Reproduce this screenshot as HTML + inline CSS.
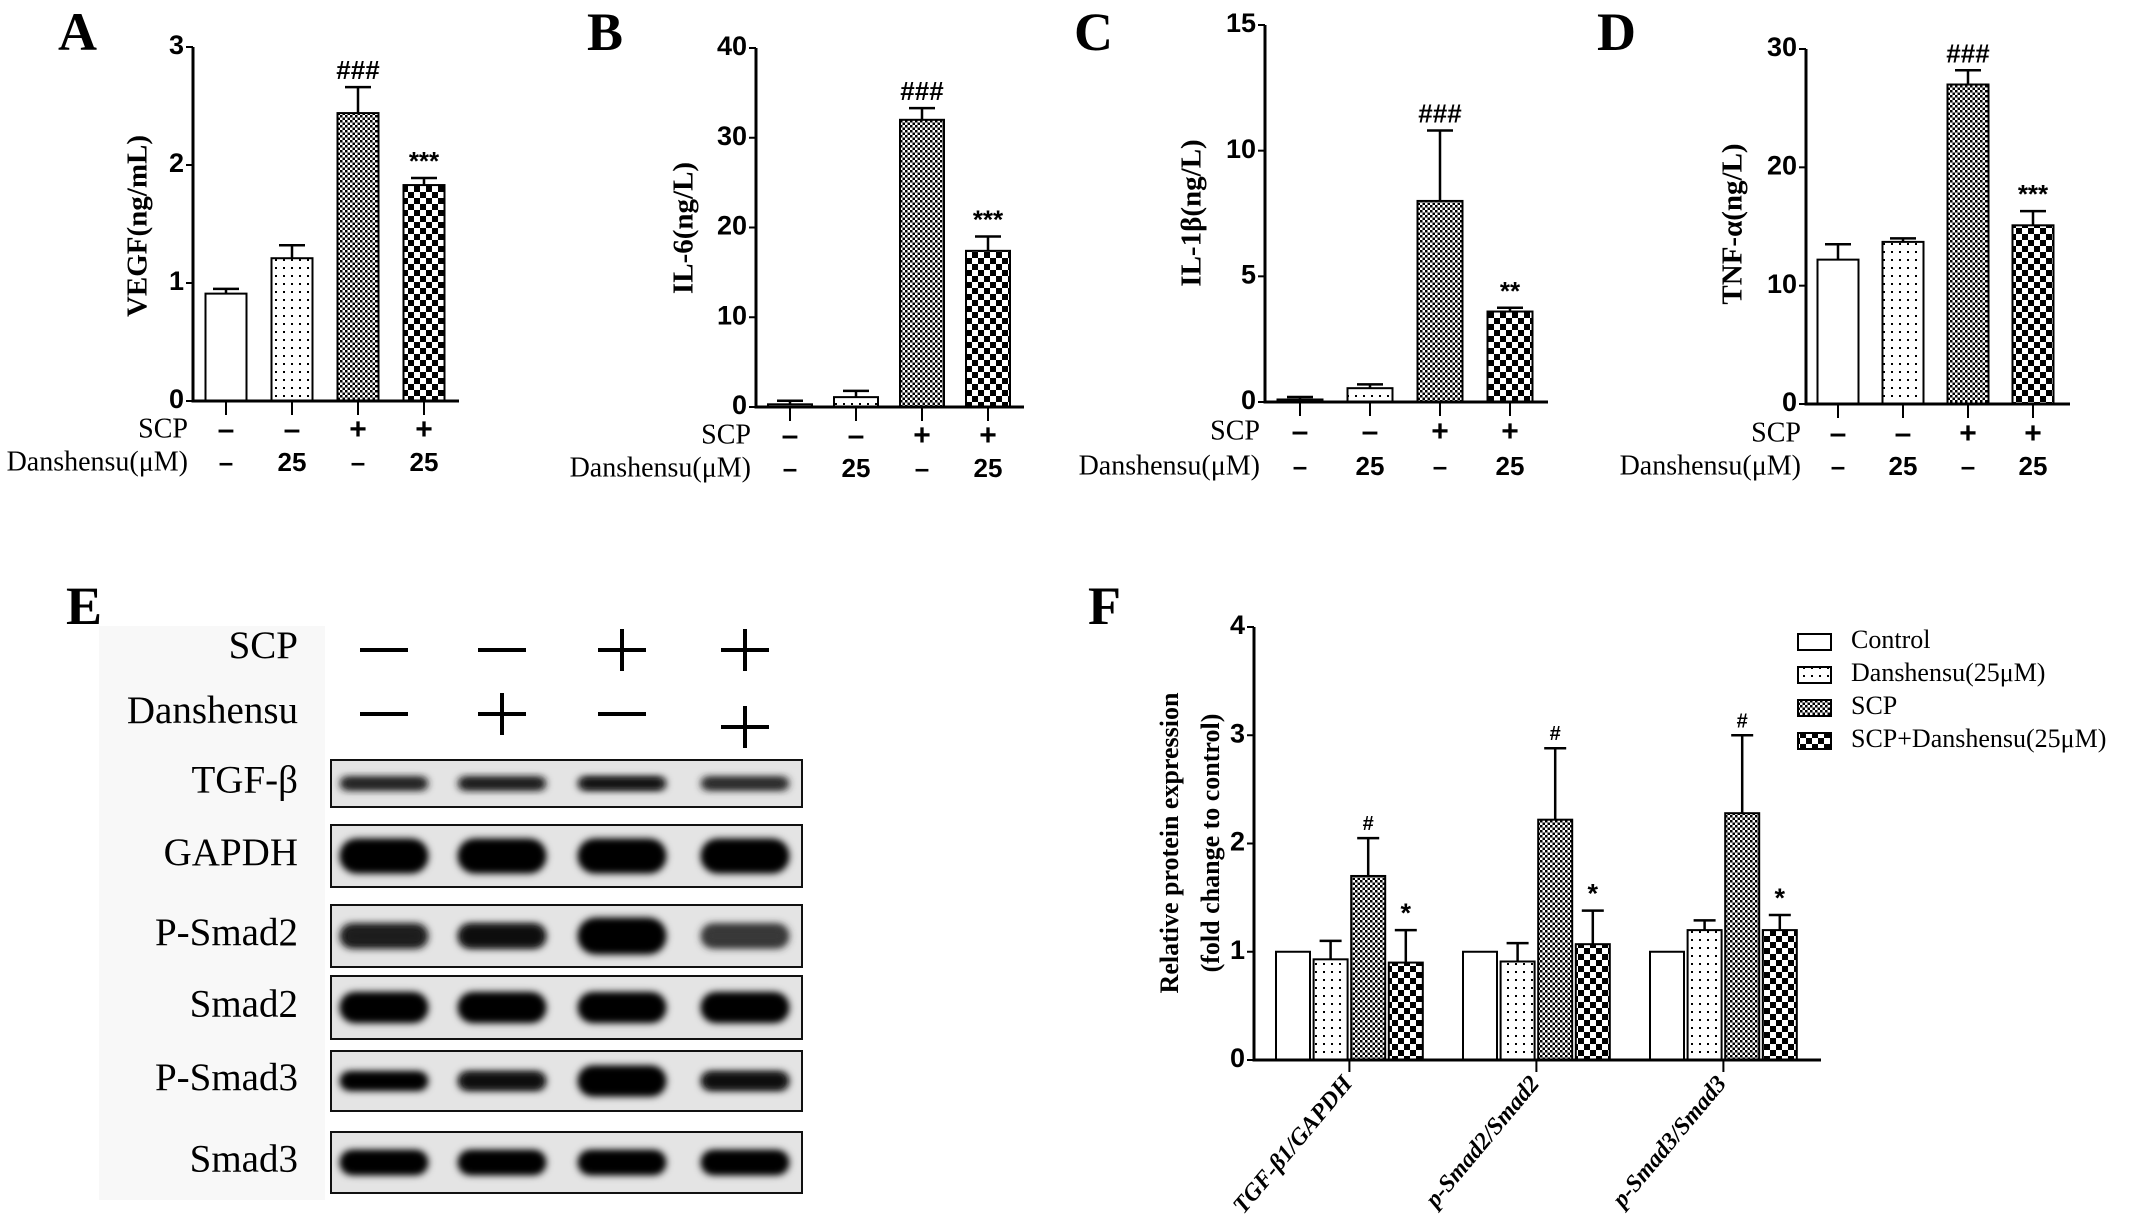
<!DOCTYPE html>
<html><head><meta charset="utf-8"><style>
body{margin:0;background:#fff}
svg{display:block}
.serif{font-family:"Liberation Serif",serif}
.sans{font-family:"Liberation Sans Narrow","Liberation Sans",sans-serif;font-weight:bold}
</style></head><body>
<svg id="fig" width="2140" height="1226" viewBox="0 0 2140 1226" xmlns="http://www.w3.org/2000/svg">
<defs>
<pattern id="p-dots" width="8" height="8" patternUnits="userSpaceOnUse"><rect width="8" height="8" fill="#fff"/><rect x="3" y="3" width="2" height="2" fill="#000"/></pattern>
<pattern id="p-fine" width="5" height="5" patternUnits="userSpaceOnUse"><rect width="5" height="5" fill="#fff"/><rect width="2.5" height="2.5" fill="#000"/><rect x="2.5" y="2.5" width="2.5" height="2.5" fill="#000"/></pattern>
<pattern id="p-check" width="12" height="12" patternUnits="userSpaceOnUse"><rect width="12" height="12" fill="#fff"/><rect width="6" height="6" fill="#000"/><rect x="6" y="6" width="6" height="6" fill="#000"/></pattern>
<filter id="blur" x="-30%" y="-80%" width="160%" height="260%"><feGaussianBlur stdDeviation="4"/></filter>
</defs>
<g id="root"></g>
</svg>
<script>
// Panel A: VEGF
const groups = ["Control", "Danshensu", "SCP", "SCP+Danshensu"];
const scpSigns = ["–", "–", "+", "+"];
const danSigns = ["–", "25", "–", "25"];
const vegfValues = [0.91, 1.21, 2.44, 1.83];
const vegfErrors = [0.04, 0.11, 0.22, 0.06];
const vegfTicks = [0, 1, 2, 3];
const vegfMarks = ["", "", "###", "***"];
// Panel B: IL-6
const il6Values = [0.3, 1.1, 32.0, 17.4];
const il6Errors = [0.4, 0.7, 1.3, 1.6];
const il6Ticks = [0, 10, 20, 30, 40];
const il6Marks = ["", "", "###", "***"];
// Panel C: IL-1β
const il1bValues = [0.1, 0.55, 8.0, 3.6];
const il1bErrors = [0.1, 0.15, 2.8, 0.15];
const il1bTicks = [0, 5, 10, 15];
const il1bMarks = ["", "", "###", "**"];
// Panel D: TNF-α
const tnfValues = [12.2, 13.7, 27.0, 15.1];
const tnfErrors = [1.3, 0.3, 1.2, 1.2];
const tnfTicks = [0, 10, 20, 30];
const tnfMarks = ["", "", "###", "***"];
// Panel F
const fCategories = ["TGF-β1/GAPDH", "p-Smad2/Smad2", "p-Smad3/Smad3"];
const fControl = [1.0, 1.0, 1.0];
const fDanshensu = [0.93, 0.91, 1.2];
const fSCP = [1.7, 2.22, 2.28];
const fSCPDan = [0.9, 1.07, 1.2];
const fErrControl = [0, 0, 0];
const fErrDanshensu = [0.17, 0.17, 0.09];
const fErrSCP = [0.35, 0.66, 0.72];
const fErrSCPDan = [0.3, 0.31, 0.14];
const fMarksSCP = ["#", "#", "#"];
const fMarksSCPDan = ["*", "*", "*"];
const fTicks = [0, 1, 2, 3, 4];
const legendLabels = ["Control", "Danshensu(25μM)", "SCP", "SCP+Danshensu(25μM)"];

const NS = "http://www.w3.org/2000/svg";
const root = document.getElementById("root");
const fills = ["#fff", "url(#p-dots)", "url(#p-fine)", "url(#p-check)"];
function mk(tag, attrs, parent, text) {
  const e = document.createElementNS(NS, tag);
  for (const k in attrs) e.setAttribute(k, attrs[k]);
  if (text !== undefined) e.textContent = text;
  (parent || root).appendChild(e);
  return e;
}

function barPanel(cfg) {
  const g = mk("g", {});
  
  
  const max = cfg.ticks[cfg.ticks.length - 1];
  const y = v => cfg.y0 - (v / max) * (cfg.y0 - cfg.yTop);
  const x = i => cfg.ax + cfg.off + i * cfg.pitch;
  const pl = mk("text", {x: cfg.lx, y: 50, "font-size": 54, "font-weight": "bold", class: "serif"}, g, cfg.letter);
  
  
  const yt = mk("text", {transform: `translate(${cfg.tx},${cfg.ty}) rotate(-90)`, "text-anchor": "middle", "dominant-baseline": "middle", "font-size": 29, "font-weight": "bold", class: "serif"}, g, cfg.title);
  
  
  cfg.values.forEach((v, i) => {
    const r = mk("rect", {x: x(i) - cfg.bw / 2, y: y(v), width: cfg.bw, height: cfg.y0 - y(v), fill: fills[i], stroke: "#000", "stroke-width": 2}, g);
    
    
    const top = y(v + cfg.errors[i]);
    const eb = mk("path", {d: `M${x(i)},${y(v)}V${top}M${x(i) - 13},${top}H${x(i) + 13}`, stroke: "#000", "stroke-width": 2.5, fill: "none"}, g);
    
    
    if (cfg.marks[i]) {
      const m = mk("text", {x: x(i), y: top - 8, "text-anchor": "middle", "font-size": 26, class: "sans"}, g, cfg.marks[i]);
      
      
    }
    mk("line", {x1: x(i), x2: x(i), y1: cfg.y0, y2: cfg.y0 + 14, stroke: "#000", "stroke-width": 2}, g);
    const s = mk("text", {x: x(i), y: cfg.r1, "text-anchor": "middle", "dominant-baseline": "middle", "font-size": 30, class: "sans"}, g, scpSigns[i]);
    
    
    const d = mk("text", {x: x(i), y: cfg.r2, "text-anchor": "middle", "dominant-baseline": "middle", "font-size": 26, class: "sans"}, g, danSigns[i]);
    
    
  });
  const ax = mk("path", {d: `M${cfg.ax},${cfg.yTop}V${cfg.y0}H${cfg.xEnd}`, stroke: "#000", "stroke-width": 3, fill: "none"}, g);
  
  
  cfg.ticks.forEach(t => {
    mk("line", {x1: cfg.ax - 7, x2: cfg.ax, y1: y(t), y2: y(t), stroke: "#000", "stroke-width": 2}, g);
    const tl = mk("text", {x: cfg.ax - 9, y: y(t), "text-anchor": "end", "dominant-baseline": "middle", "font-size": 27, class: "sans"}, g, t);
    
    
  });
  const l1 = mk("text", {x: cfg.ax - 5, y: cfg.r1, "text-anchor": "end", "dominant-baseline": "middle", "font-size": 28, class: "serif"}, g, "SCP");
  
  
  const l2 = mk("text", {x: cfg.ax - 5, y: cfg.r2, "text-anchor": "end", "dominant-baseline": "middle", "font-size": 28, class: "serif"}, g, "Danshensu(μM)");
  
  
}

barPanel({name: "panel-a-vegf", letter: "A", lx: 58, title: "VEGF(ng/mL)", tx: 140, ty: 226, values: vegfValues, errors: vegfErrors, ticks: vegfTicks, marks: vegfMarks, ax: 193, yTop: 47, y0: 401, xEnd: 459, off: 33, pitch: 66, bw: 41, r1: 431, r2: 464});
barPanel({name: "panel-b-il6", letter: "B", lx: 587, title: "IL-6(ng/L)", tx: 686, ty: 228, values: il6Values, errors: il6Errors, ticks: il6Ticks, marks: il6Marks, ax: 756, yTop: 48, y0: 407, xEnd: 1024, off: 34, pitch: 66, bw: 44, r1: 437, r2: 470});
barPanel({name: "panel-c-il1b", letter: "C", lx: 1074, title: "IL-1β(ng/L)", tx: 1194, ty: 213, values: il1bValues, errors: il1bErrors, ticks: il1bTicks, marks: il1bMarks, ax: 1265, yTop: 25, y0: 402, xEnd: 1548, off: 35, pitch: 70, bw: 45, r1: 433, r2: 468});
barPanel({name: "panel-d-tnf", letter: "D", lx: 1597, title: "TNF-α(ng/L)", tx: 1735, ty: 224, values: tnfValues, errors: tnfErrors, ticks: tnfTicks, marks: tnfMarks, ax: 1806, yTop: 49, y0: 404, xEnd: 2070, off: 32, pitch: 65, bw: 41, r1: 435, r2: 468});

// Panel E: western blot
(function () {
  const g = mk("g", {});
  
  
  const el = mk("text", {x: 66, y: 624, "font-size": 54, "font-weight": "bold", class: "serif"}, g, "E");
  
  
  mk("rect", {x: 99, y: 626, width: 226, height: 574, fill: "#f8f8f8"}, g);
  const lanes = [384, 502, 622, 745];
  const scp = [0, 0, 1, 1], dan = [0, 1, 0, 1];
  const sign = (cx, cy, plus) => {
    mk("line", {x1: cx - 24, x2: cx + 24, y1: cy, y2: cy, stroke: "#000", "stroke-width": 4}, g);
    if (plus) mk("line", {x1: cx, x2: cx, y1: cy - 21, y2: cy + 21, stroke: "#000", "stroke-width": 4}, g);
  };
  lanes.forEach((x, i) => { sign(x, 650, scp[i]); sign(x, i === 3 ? 727 : 714, dan[i]); });
  const tl = (t, y) => { const e = mk("text", {x: 298, y: y, "text-anchor": "end", "dominant-baseline": "middle", "font-size": 39, class: "serif"}, g, t);   };
  tl("SCP", 649); tl("Danshensu", 714);
  const rows = [
    {n: "TGF-β", y: 760, h: 47, bh: 12, k: [0.75, 0.8, 0.9, 0.7]},
    {n: "GAPDH", y: 825, h: 62, bh: 34, k: [1, 1, 1, 1]},
    {n: "P-Smad2", y: 905, h: 62, bh: 24, k: [0.8, 0.9, 1, 0.6]},
    {n: "Smad2", y: 976, h: 63, bh: 30, k: [1, 1, 1, 1]},
    {n: "P-Smad3", y: 1051, h: 60, bh: 18, k: [1, 0.95, 1, 0.95]},
    {n: "Smad3", y: 1132, h: 61, bh: 24, k: [1, 1, 1, 1]}
  ];
  rows.forEach(r => {
    const bg = mk("g", {});
    g.appendChild(bg);
    
    
    mk("rect", {x: 331, y: r.y, width: 471, height: r.h, fill: "#e4e4e4", stroke: "#111", "stroke-width": 2}, bg);
    r.k.forEach((k, i) => {
      const v = Math.round(255 * (1 - k) * 0.55);
      const bh = (r.n === "P-Smad2" && i === 2) || (r.n === "P-Smad3" && i === 2) ? r.bh + 12 : r.bh;
      mk("rect", {x: lanes[i] - 44, y: r.y + r.h / 2 - bh / 2, width: 88, height: bh, rx: bh / 2, fill: `rgb(${v},${v},${v})`, filter: "url(#blur)"}, bg);
      mk("rect", {x: lanes[i] - 40, y: r.y + r.h / 2 - bh / 2.6, width: 80, height: bh / 1.3, rx: bh / 3, fill: `rgb(${v},${v},${v})`, filter: "url(#blur)"}, bg);
    });
    tl(r.n, r.y + r.h / 2);
  });
})();

// Panel F
(function () {
  const g = mk("g", {});
  
  
  const ax = 1254, yTop = 627, y0 = 1060, xEnd = 1821;
  const max = fTicks[fTicks.length - 1];
  const y = v => y0 - v / max * (y0 - yTop);
  const series = [fControl, fDanshensu, fSCP, fSCPDan];
  const errs = [fErrControl, fErrDanshensu, fErrSCP, fErrSCPDan];
  const bw = 34, gapIn = 37.6, pitch = 187, first = 1293;
  const fl = mk("text", {x: 1088, y: 624, "font-size": 54, "font-weight": "bold", class: "serif"}, g, "F");
  
  
  fCategories.forEach((c, ci) => {
    series.forEach((s, si) => {
      const cx = first + ci * pitch + si * gapIn;
      const r = mk("rect", {x: cx - bw / 2, y: y(s[ci]), width: bw, height: y0 - y(s[ci]), fill: fills[si], stroke: "#000", "stroke-width": 2}, g);
      
      
      if (errs[si][ci] > 0) {
        const t = y(s[ci] + errs[si][ci]);
        const eb = mk("path", {d: `M${cx},${y(s[ci])}V${t}M${cx - 11},${t}H${cx + 11}`, stroke: "#000", "stroke-width": 2.5, fill: "none"}, g);
        
        
        const mark = si === 2 ? fMarksSCP[ci] : si === 3 ? fMarksSCPDan[ci] : "";
        if (mark) {
          const m = mk("text", {x: cx, y: t - 8, "text-anchor": "middle", "font-size": si === 2 ? 20 : 27, class: "sans"}, g, mark);
          
          
        }
      }
    });
    const tx = first + ci * pitch + 1.5 * gapIn;
    mk("line", {x1: tx, x2: tx, y1: y0, y2: y0 + 12, stroke: "#000", "stroke-width": 2}, g);
    const lab = mk("text", {transform: `translate(${tx + 4},${y0 + 24}) rotate(-50)`, "text-anchor": "end", "font-size": 24, "font-weight": "bold", "font-style": "italic", class: "serif"}, g, c);
    
    
  });
  const axp = mk("path", {d: `M${ax},${yTop}V${y0}H${xEnd}`, stroke: "#000", "stroke-width": 3, fill: "none"}, g);
  
  
  fTicks.forEach(t => {
    mk("line", {x1: ax - 7, x2: ax, y1: y(t), y2: y(t), stroke: "#000", "stroke-width": 2}, g);
    const tl = mk("text", {x: ax - 9, y: y(t), "text-anchor": "end", "dominant-baseline": "middle", "font-size": 27, class: "sans"}, g, t);
    
    
  });
  const t1 = mk("text", {transform: "translate(1172,843) rotate(-90)", "text-anchor": "middle", "dominant-baseline": "middle", "font-size": 26, "font-weight": "bold", class: "serif"}, g, "Relative protein expression");
  
  
  const t2 = mk("text", {transform: "translate(1213,843) rotate(-90)", "text-anchor": "middle", "dominant-baseline": "middle", "font-size": 26, "font-weight": "bold", class: "serif"}, g, "(fold change to control)");
  
  
  legendLabels.forEach((l, i) => {
    const ly = 642 + i * 33;
    const le = mk("g", {}, g);
    
    
    mk("rect", {x: 1798, y: ly - 8, width: 33, height: 16, fill: fills[i], stroke: "#000", "stroke-width": 2}, le);
    mk("text", {x: 1851, y: ly, "dominant-baseline": "middle", "font-size": 26, class: "serif"}, le, l);
  });
})();
</script>
</body></html>
